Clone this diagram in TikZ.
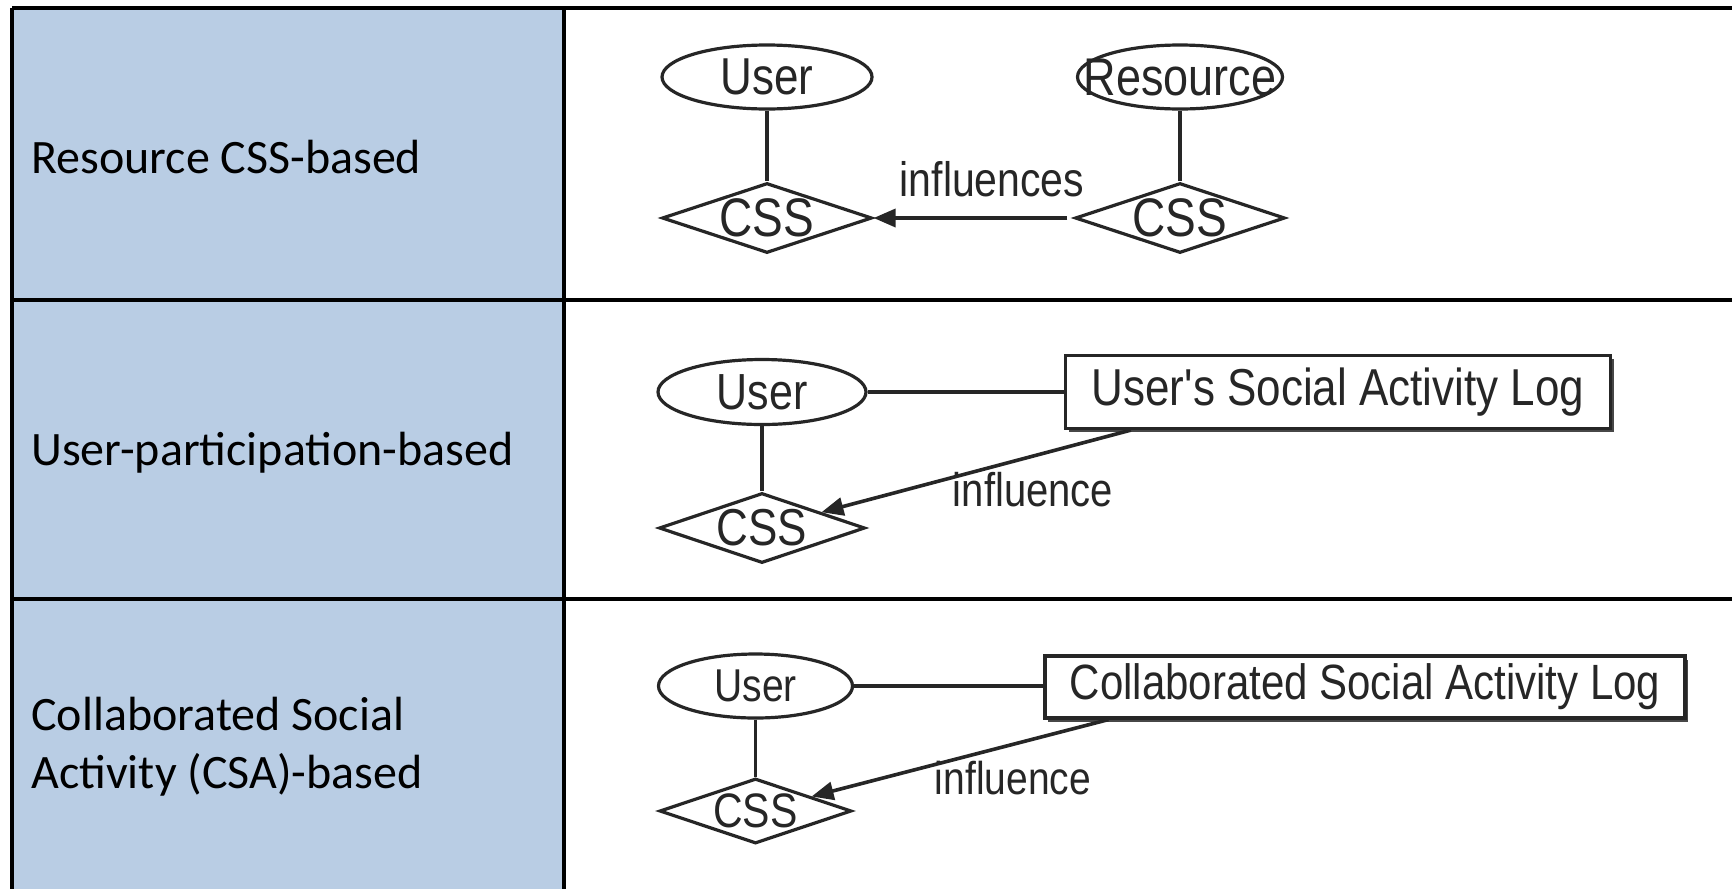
\documentclass[tikz,border=0pt]{standalone}
\usepackage{fontspec}
\usepackage{graphicx}
\setmainfont{Carlito}
\newfontfamily\diagfont{Liberation Sans}
\usetikzlibrary{shapes.geometric,arrows.meta,calc,shadows}
\definecolor{cellblue}{HTML}{B9CDE4}
\definecolor{ink}{HTML}{262626}
\newcommand{\tallt}[1]{\scalebox{1}[1.18]{#1}}
\newcommand{\zerow}[1]{\makebox[0pt][c]{\tallt{#1}}}
\newcommand{\dfs}[1]{\diagfont\fontsize{#1}{#1}\selectfont}
\tikzset{
  gridline/.style={line width=2pt,black},
  rowlabel/.style={anchor=west,inner sep=0pt,align=left,font=\fontsize{24}{29}\selectfont},
  ent/.style={ellipse,draw=ink,line width=1.6pt,inner sep=0pt,fill=white,text=ink},
  rel/.style={diamond,aspect=3,draw=ink,line width=1.6pt,inner sep=0pt,fill=white,text=ink},
  logbox/.style={rectangle,draw=ink,line width=1.6pt,inner sep=0pt,fill=white,text=ink,
    drop shadow={shadow xshift=1.5pt,shadow yshift=-1.8pt,fill=ink!85,opacity=1}},
  link/.style={draw=ink,line width=1.8pt},
  infl/.style={link,-{Triangle[length=11pt,width=9pt]}},
  elabel/.style={inner sep=0pt,text=ink},
}
\begin{document}
\begin{tikzpicture}[x=0.5pt,y=-0.5pt]
\useasboundingbox (0,0) rectangle (1732,889);
% table
\fill[white] (0,0) rectangle (1732,889);
\fill[cellblue] (12,8) rectangle (564,889);
\draw[gridline] (12,8) -- (1732,8);
\draw[gridline] (12,8) -- (12,889);
\draw[gridline] (564,8) -- (564,889);
\draw[gridline] (12,300) -- (1732,300);
\draw[gridline] (12,599) -- (1732,599);
% row labels
\node[rowlabel] (t1) at (31,157) {Resource CSS-based};
\node[rowlabel] (t2) at (31,453) {User-participation-based};
\node[rowlabel] (t3) at (31,747) {Collaborated Social\\Activity (CSA)-based};
% row 1
\node[ent,minimum width=105pt,minimum height=32pt,font=\dfs{22}] (u1) at (767,77) {\zerow{User}};
\node[ent,minimum width=102.5pt,minimum height=32pt,font=\dfs{22.5}] (r1) at (1180,77) {\zerow{Resource}};
\node[rel,minimum width=105pt,minimum height=34pt,font=\dfs{23}] (c1a) at (767,218) {\tallt{CSS}};
\node[rel,minimum width=104pt,minimum height=34pt,font=\dfs{23}] (c1b) at (1180,218) {\tallt{CSS}};
\draw[link] (u1) -- (c1a);
\draw[link] (r1) -- (c1b);
\draw[infl,shorten <=3pt] (c1b) -- (c1a);
\node[elabel,font=\dfs{20.5}] (l1) at (992,179) {\tallt{influences}};
% row 2
\node[ent,minimum width=104pt,minimum height=32.5pt,font=\dfs{21.5}] (u2) at (762,392) {\zerow{User}};
\node[logbox,minimum width=272.5pt,minimum height=36.5pt,font=\dfs{22}] (b2) at (1338,392) {\tallt{User's Social Activity Log}};
\node[rel,minimum width=103pt,minimum height=35pt,font=\dfs{22}] (c2) at (762,528) {\tallt{CSS}};
\draw[link] (u2) -- (u2 -| b2.west);
\draw[link] (u2) -- (c2);
\coordinate (s2) at ($(b2.south west)+(67,0)$);
\draw[infl] (s2) -- (c2);
\node[elabel,font=\dfs{20}] (l2) at (1033,490) {\tallt{influence}};
% row 3
\node[ent,minimum width=97pt,minimum height=32pt,font=\dfs{19.5}] (u3) at (755.5,686) {\zerow{User}};
\node[logbox,minimum width=320pt,minimum height=31pt,font=\dfs{21}] (b3) at (1365,687) {\tallt{Collaborated Social Activity Log}};
\node[rel,minimum width=96pt,minimum height=32.5pt,font=\dfs{20.5}] (c3) at (755.5,811) {\tallt{CSS}};
\draw[link] (u3) -- (u3 -| b3.west);
\draw[link] (u3) -- (c3);
\coordinate (s3) at ($(b3.south west)+(65,0)$);
\draw[infl] (s3) -- (c3);
\node[elabel,font=\dfs{19.5}] (l3) at (1013,778) {\tallt{influence}};
\end{tikzpicture}
\end{document}
